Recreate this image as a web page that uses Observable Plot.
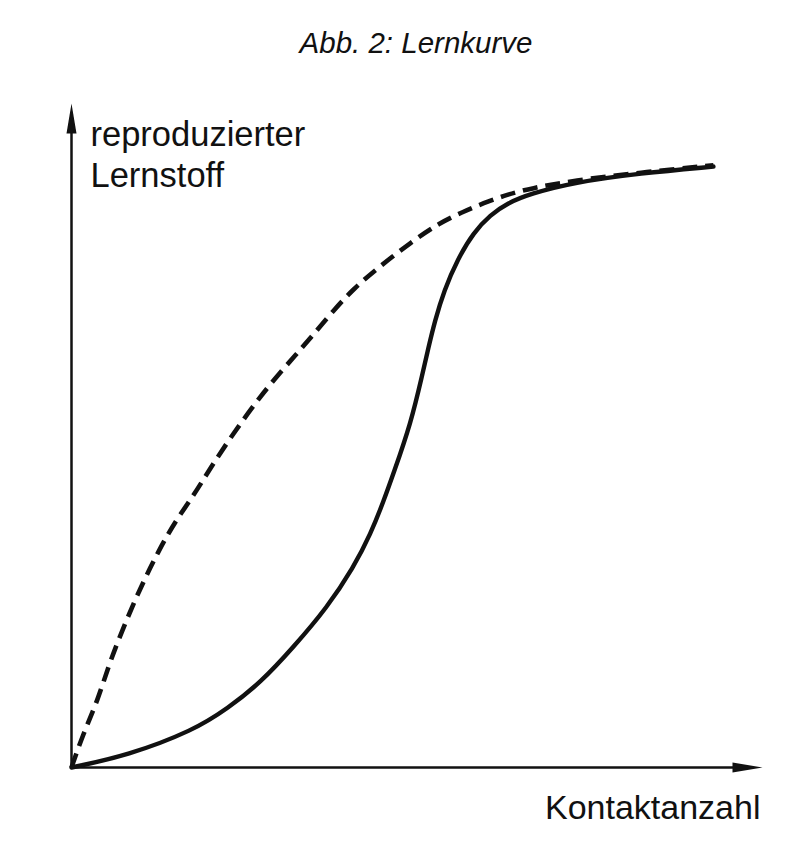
<!DOCTYPE html>
<html>
<head>
<meta charset="utf-8">
<script src="https://cdn.jsdelivr.net/npm/d3@7"></script>
<script src="https://cdn.jsdelivr.net/npm/@observablehq/plot@0.6"></script>
<style>
  html, body { margin: 0; padding: 0; background: #fff; }
  #title { height: 80px; box-sizing: border-box; padding-top: 29px; padding-left: 40px;
           text-align: center; font: italic 29.5px/28px "Liberation Sans", Arial, sans-serif; color: #111; }
</style>
</head>
<body>
<div id="title">Abb. 2: Lernkurve</div>
<div id="chart"></div>
<script>
// Solid curve: S-shaped learning curve (Kontaktanzahl vs. reproduzierter Lernstoff)
const solidX = [0, 8.1, 17.7, 22.6, 27.4, 32.1, 37.0, 40.8, 43.3, 45.2, 46.6, 49.1, 50.8, 51.6, 52.6, 53.9, 55.9, 58.2, 60.6, 63.1, 66.4, 72.6, 82.3, 92.9];
const solidY = [0, 1.8, 5.6, 8.9, 12.8, 18.1, 24.1, 30.1, 35.2, 40.2, 44.3, 51.8, 59.3, 63.0, 67.3, 71.8, 76.6, 80.6, 83.2, 85.0, 86.4, 88.1, 89.5, 90.5];
// Dashed curve: concave learning curve
const dashX = [0, 1.7, 3.8, 5.6, 8.1, 10.4, 12.6, 14.9, 17.7, 20.1, 23.4, 27.4, 30.2, 32.6, 35.0, 37.9, 40.8, 44.3, 49.1, 53.4, 56.5, 59.6, 63.1, 66.4, 72.6, 82.3, 92.9];
const dashY = [0, 5.1, 10.1, 16.1, 22.6, 28.0, 32.6, 36.9, 41.0, 45.1, 50.3, 56.0, 59.5, 62.3, 65.2, 68.8, 72.1, 75.2, 79.1, 82.1, 83.6, 85.0, 86.3, 87.2, 88.4, 89.6, 90.7];
const yLabel = "reproduzierter\nLernstoff";
const xLabel = "Kontaktanzahl";

const solid = solidX.map((x, i) => ({x, y: solidY[i]}));
const dashed = dashX.map((x, i) => ({x, y: dashY[i]}));

// narrow filled arrowhead, apex at origin pointing up
const arrowHead = {
  draw(ctx) {
    ctx.moveTo(0, 0);
    ctx.lineTo(5, 30);
    ctx.lineTo(-5, 30);
    ctx.closePath();
  }
};

const chart = Plot.plot({
  width: 792,
  height: 788,
  marginLeft: 71,
  marginRight: 30,
  marginTop: 23,
  marginBottom: 101,
  x: {domain: [0, 100], axis: null},
  y: {domain: [0, 100], axis: null},
  style: {fontFamily: "'Liberation Sans', Arial, sans-serif", color: "#111", background: "#fff", overflow: "visible"},
  marks: [
    Plot.ruleX([0], {y1: 0, y2: 96, stroke: "#111", strokeWidth: 2.5}),
    Plot.ruleY([0], {x1: 0, x2: 96, stroke: "#111", strokeWidth: 2.5}),
    Plot.dot([{x: 0, y: 100}], {x: "x", y: "y", symbol: arrowHead, fill: "#111", stroke: null, r: 10}),
    Plot.dot([{x: 100, y: 0}], {x: "x", y: "y", symbol: arrowHead, fill: "#111", stroke: null, r: 10, rotate: 90}),
    Plot.line(dashed, {x: "x", y: "y", curve: "basis", stroke: "#111", strokeWidth: 4.6, strokeDasharray: "15,8", strokeLinecap: "butt"}),
    Plot.line(solid, {x: "x", y: "y", curve: "basis", stroke: "#111", strokeWidth: 4.4}),
    Plot.text([yLabel], {frameAnchor: "top-left", text: d => d, textAnchor: "start", lineAnchor: "top", dx: 19, dy: 14, fontSize: 34.5, lineHeight: 1.18, fill: "#111"}),
    Plot.text([xLabel], {frameAnchor: "bottom-right", text: d => d, textAnchor: "end", lineAnchor: "top", dx: -2, dy: 27, fontSize: 34, fill: "#111"})
  ]
});
document.getElementById("chart").appendChild(chart);
</script>
</body>
</html>
